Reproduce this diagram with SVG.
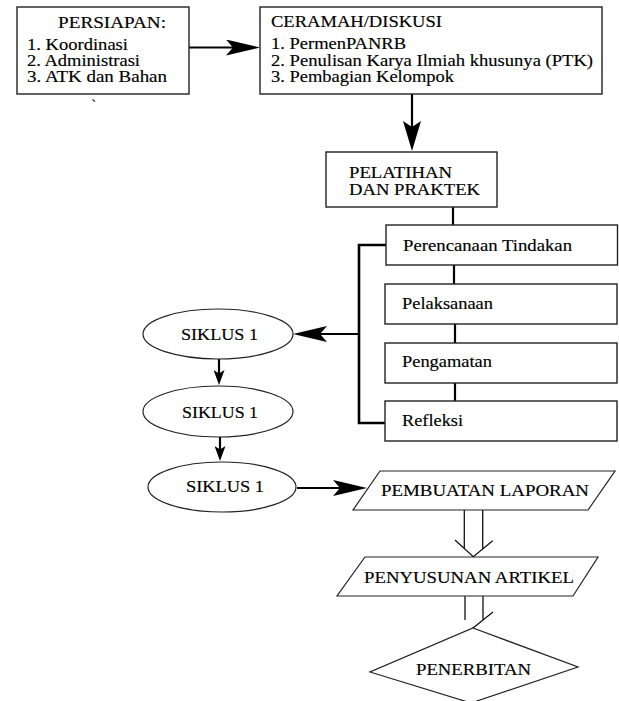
<svg xmlns="http://www.w3.org/2000/svg" width="619" height="701" viewBox="0 0 619 701" font-family="Liberation Serif, DejaVu Serif, serif">
<defs>
<style>
text{font-family:'Liberation Serif','DejaVu Serif',serif;font-size:16px;fill:#000;stroke:#000;stroke-width:0.15;}
.c{text-anchor:middle;}
.box{fill:#fff;stroke:#222;stroke-width:1.4;}
.thin{fill:#fff;stroke:#222;stroke-width:1.2;}
.ln{fill:none;stroke:#000;stroke-width:2.2;}
.lt{fill:none;stroke:#111;stroke-width:1.3;}
</style>
<marker id="ah" viewBox="0 0 34 16" refX="26" refY="8" markerWidth="34" markerHeight="16" markerUnits="userSpaceOnUse" orient="auto">
<path d="M34,8 L0,0 L7,8 L0,16 Z" fill="#000"/>
</marker>
<marker id="ahv" viewBox="0 0 30 18" refX="22" refY="9" markerWidth="30" markerHeight="18" markerUnits="userSpaceOnUse" orient="auto">
<path d="M30,9 L0,0 L6,9 L0,18 Z" fill="#000"/>
</marker>
<marker id="as" viewBox="0 0 15 11" refX="10" refY="5.5" markerWidth="15" markerHeight="11" markerUnits="userSpaceOnUse" orient="auto">
<path d="M15,5.5 L0,0 L3.5,5.5 L0,11 Z" fill="#000"/>
</marker>
</defs>
<rect width="619" height="701" fill="#fff"/>

<g id="connectors">
<line class="ln" x1="189" y1="47.5" x2="252" y2="47.5" marker-end="url(#ah)"/>
<line class="ln" x1="412" y1="94" x2="412" y2="143" marker-end="url(#ahv)"/>
<line class="ln" x1="453" y1="207" x2="453" y2="225"/>
<line class="ln" x1="454" y1="265" x2="454" y2="284"/>
<line class="ln" x1="455" y1="324" x2="455" y2="343"/>
<line class="ln" x1="455" y1="383" x2="455" y2="401"/>
<path class="ln" d="M386,245 H359 V423 H386" style="stroke-width:2.6"/>
<line class="ln" x1="359" y1="334" x2="301" y2="334" marker-end="url(#ah)"/>
<line class="ln" x1="219" y1="359" x2="219" y2="380" marker-end="url(#as)"/>
<line class="ln" x1="220" y1="437" x2="220" y2="456" marker-end="url(#as)"/>
<line class="ln" x1="297" y1="488" x2="359" y2="488" marker-end="url(#ah)"/>
<path class="lt" d="M464.3,510 V548.5 M482.7,510 V549 M455,540 L473.3,556.7 L492.7,540.7"/>
<path class="lt" d="M465,596 V620 M483,596 V620 M493,612 L473,628"/>
</g>

<g id="persiapan">
<rect class="box" x="17" y="7" width="172" height="87"/>
<text x="58" y="28" textLength="108" lengthAdjust="spacingAndGlyphs">PERSIAPAN:</text>
<text x="27" y="50" textLength="101" lengthAdjust="spacingAndGlyphs">1. Koordinasi</text>
<text x="27" y="66" textLength="113" lengthAdjust="spacingAndGlyphs">2. Administrasi</text>
<text x="27" y="82" textLength="140" lengthAdjust="spacingAndGlyphs">3. ATK dan Bahan</text>
</g>
<g id="tick">
<text x="91" y="111">`</text>
</g>

<g id="ceramah">
<rect class="box" x="260" y="7" width="342" height="87"/>
<text x="271" y="27" textLength="171" lengthAdjust="spacingAndGlyphs">CERAMAH/DISKUSI</text>
<text x="271" y="49" textLength="135" lengthAdjust="spacingAndGlyphs">1. PermenPANRB</text>
<text x="271" y="66" textLength="322" lengthAdjust="spacingAndGlyphs">2. Penulisan Karya Ilmiah khusunya (PTK)</text>
<text x="271" y="82" textLength="183" lengthAdjust="spacingAndGlyphs">3. Pembagian Kelompok</text>
</g>

<g id="pelatihan">
<rect class="box" x="326" y="152" width="171" height="55"/>
<text x="349" y="178" textLength="103" lengthAdjust="spacingAndGlyphs">PELATIHAN</text>
<text x="349" y="195" textLength="131" lengthAdjust="spacingAndGlyphs">DAN PRAKTEK</text>
</g>

<g id="perencanaan">
<rect class="box" x="386" y="225" width="231.5" height="40"/>
<text x="403" y="251" textLength="169" lengthAdjust="spacingAndGlyphs">Perencanaan Tindakan</text>
</g>
<g id="pelaksanaan">
<rect class="box" x="385" y="284" width="232" height="40"/>
<text x="402" y="309" textLength="91" lengthAdjust="spacingAndGlyphs">Pelaksanaan</text>
</g>
<g id="pengamatan">
<rect class="box" x="385" y="343" width="232" height="40"/>
<text x="402" y="367" textLength="90" lengthAdjust="spacingAndGlyphs">Pengamatan</text>
</g>
<g id="refleksi">
<rect class="box" x="385" y="401" width="232" height="40"/>
<text x="402" y="426" textLength="61" lengthAdjust="spacingAndGlyphs">Refleksi</text>
</g>

<g id="siklus1">
<ellipse class="thin" cx="218" cy="334" rx="75" ry="25"/>
<text class="c" x="219.5" y="340" textLength="77" lengthAdjust="spacingAndGlyphs">SIKLUS 1</text>
</g>
<g id="siklus2">
<ellipse class="thin" cx="218" cy="411.5" rx="75" ry="25.5"/>
<text class="c" x="220" y="418" textLength="76" lengthAdjust="spacingAndGlyphs">SIKLUS 1</text>
</g>
<g id="siklus3">
<ellipse class="thin" cx="222" cy="487" rx="74" ry="25"/>
<text class="c" x="225" y="492" textLength="78" lengthAdjust="spacingAndGlyphs">SIKLUS 1</text>
</g>

<g id="laporan">
<polygon class="thin" points="380,471 615,471 588,510 353,510"/>
<text x="381" y="496" textLength="208" lengthAdjust="spacingAndGlyphs">PEMBUATAN LAPORAN</text>
</g>
<g id="artikel">
<polygon class="thin" points="365,557 598,557 573,596 337,596"/>
<text x="364" y="583" textLength="210" lengthAdjust="spacingAndGlyphs">PENYUSUNAN ARTIKEL</text>
</g>
<g id="penerbitan">
<polygon class="thin" points="473,628 578,667 471,703 370,672"/>
<text x="416" y="675" textLength="115" lengthAdjust="spacingAndGlyphs">PENERBITAN</text>
</g>
</svg>
